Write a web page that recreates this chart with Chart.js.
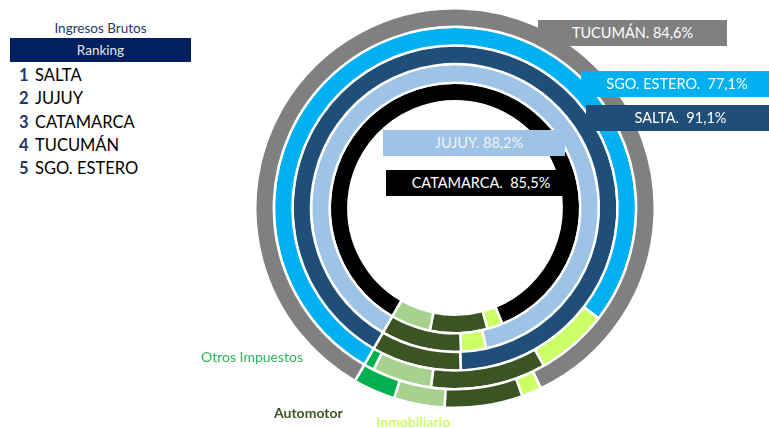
<!DOCTYPE html>
<html>
<head>
<meta charset="utf-8">
<script src="https://cdn.jsdelivr.net/npm/chart.js@4"></script>
<style>
  body { margin: 0; background: #fff; font-family: Lato, 'Open Sans', sans-serif; }
  #page { position: relative; width: 769px; height: 428px; overflow: hidden; }
  #ringWrap { position: absolute; left: 254px; top: 7px; width: 402px; height: 402px; }
  .title { position: absolute; left: 10px; width: 181px; top: 20px; text-align: center; font-size: 13.5px; color: #1F3864; line-height: 16px; }
  .rankHead { position: absolute; left: 10px; top: 38px; width: 181px; height: 24px; background: #002060; color: #E7E6E6; text-align: center; font-size: 13.5px; line-height: 24px; }
  .rankList { position: absolute; left: 19px; top: 64px; margin: 0; padding: 0; list-style: none; }
  .rankList li { font-size: 16.5px; line-height: 23.3px; color: #000; }
  .rankList b { color: #1F3864; display: inline-block; width: 16px; }
  .box { position: absolute; height: 26px; line-height: 26px; color: #fff; font-size: 14.5px; text-align: center; white-space: pre; }
  .tax { position: absolute; font-size: 14px; line-height: 14px; white-space: nowrap; }
</style>
</head>
<body>
<div id="page">
  <div class="title">Ingresos Brutos</div>
  <div class="rankHead">Ranking</div>
  <ul class="rankList" id="rankList"></ul>
  <div id="ringWrap"><canvas id="rings" width="402" height="402"></canvas></div>
  <div id="labels"></div>
</div>
<script>
// rings, outermost first
const provinces = ['TUCUMÁN', 'SGO. ESTERO', 'SALTA', 'JUJUY', 'CATAMARCA'];
const taxes = ['Ingresos Brutos', 'Inmobiliario', 'Automotor', 'Sellos', 'Otros Impuestos'];

// share of each tax in the province's own collection (%)
const ingresosBrutos = [84.6, 77.1, 91.1, 88.2, 85.5];
const inmobiliario = [1.6, 6.4, 0, 2.8, 2.0];
const automotor = [6.3, 10.3, 8.9, 9.0, 7.4];
const sellos = [4.1, 5.3, 0, 0, 5.1];
const otros = [3.4, 0.9, 0, 0, 0];

const ranking = ['SALTA', 'JUJUY', 'CATAMARCA', 'TUCUMÁN', 'SGO. ESTERO'];

const provinceColors = ['#808080', '#00B0F0', '#1F4E79', '#9DC3E6', '#000000'];
const taxColors = ['#CCFF66', '#3A5424', '#A9D18E', '#00B050'];

// label boxes (layout only)
const boxPos = [
  { left: 538, top: 20, width: 189, pad: 0, sep: '. ' },
  { left: 581, top: 71, width: 188, pad: 4, sep: '.  ' },
  { left: 586, top: 105, width: 183, pad: 6, sep: '.  ' },
  { left: 383, top: 130, width: 182, pad: 10, sep: '. ' },
  { left: 386, top: 170, width: 178, pad: 12, sep: '.  ' }
];

const fmt = v => v.toFixed(1).replace('.', ',') + '%';

const list = document.getElementById('rankList');
ranking.forEach((p, i) => {
  const li = document.createElement('li');
  li.innerHTML = '<b>' + (i + 1) + '</b>' + p;
  list.appendChild(li);
});

const datasets = provinces.map((p, i) => ({
  label: p,
  data: [ingresosBrutos[i], inmobiliario[i], automotor[i], sellos[i], otros[i]],
  backgroundColor: [provinceColors[i], ...taxColors],
  borderColor: '#fff',
  borderWidth: 2.5
}));

new Chart(document.getElementById('rings'), {
  type: 'doughnut',
  data: { labels: taxes, datasets },
  options: {
    responsive: false,
    animation: false,
    rotation: 210,
    cutout: '53.4%',
    layout: { padding: 0 },
    plugins: { legend: { display: false }, tooltip: { enabled: false } }
  }
});

const labels = document.getElementById('labels');
provinces.forEach((p, i) => {
  const b = boxPos[i];
  const d = document.createElement('div');
  d.className = 'box';
  d.style.left = b.left + 'px';
  d.style.top = b.top + 'px';
  d.style.width = (b.width - b.pad) + 'px';
  d.style.paddingLeft = b.pad + 'px';
  d.style.background = provinceColors[i];
  d.style.color = i === 3 ? '#F2F2F2' : '#fff';
  d.textContent = p + b.sep + fmt(ingresosBrutos[i]);
  labels.appendChild(d);
});

const taxLabels = [
  { text: taxes[4], left: 201, top: 350, color: '#2DB45A', weight: 400 },
  { text: taxes[2], left: 274, top: 406, color: '#3A5424', weight: 700 },
  { text: taxes[1], left: 376, top: 415, color: '#CCFF66', weight: 700 }
];
taxLabels.forEach(t => {
  const d = document.createElement('div');
  d.className = 'tax';
  d.style.left = t.left + 'px';
  d.style.top = t.top + 'px';
  d.style.color = t.color;
  d.style.fontWeight = t.weight;
  d.textContent = t.text;
  labels.appendChild(d);
});
</script>
</body>
</html>
